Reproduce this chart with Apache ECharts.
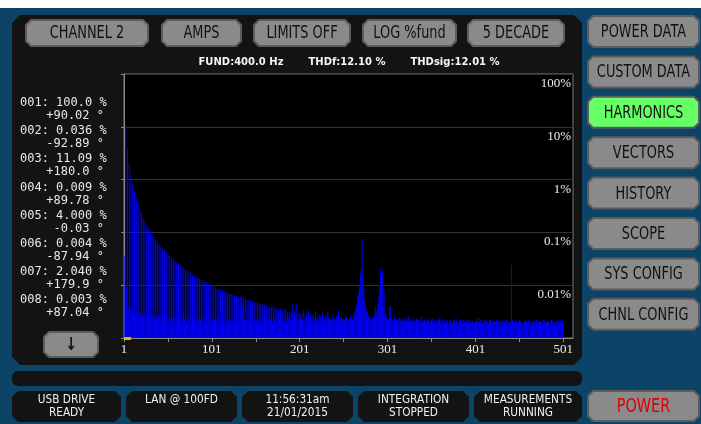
<!DOCTYPE html>
<html>
<head>
<meta charset="utf-8">
<script src="https://cdn.jsdelivr.net/npm/echarts@6/dist/echarts.min.js"></script>
<style>
  html, body { margin: 0; padding: 0; background: #0b4467; }
  #chart { width: 701px; height: 424px; }
</style>
</head>
<body>
<div id="chart"></div>
<script>
// screen texts
const topButtons = ['CHANNEL 2', 'AMPS', 'LIMITS OFF', 'LOG %fund', '5 DECADE'];
const sideButtons = ['POWER DATA', 'CUSTOM DATA', 'HARMONICS', 'VECTORS', 'HISTORY', 'SCOPE', 'SYS CONFIG', 'CHNL CONFIG'];
const activeSide = 'HARMONICS';
const statusLabels = [['USB DRIVE', 'READY'], ['LAN @ 100FD', ''], ['11:56:31am', '21/01/2015'], ['INTEGRATION', 'STOPPED'], ['MEASUREMENTS', 'RUNNING']];
const summary = ['FUND:400.0 Hz', 'THDf:12.10 %', 'THDsig:12.01 %'];

// harmonic table on the left
const listOrders = ['001', '002', '003', '004', '005', '006', '007', '008'];
const listMagnitudes = ['100.0', '0.036', '11.09', '0.009', '4.000', '0.004', '2.040', '0.003'];
const listPhases = ['+90.02', '-92.89', '+180.0', '+89.78', '-0.03', '-87.94', '+179.9', '+87.04'];

// spectrum, % of fundamental (log scale 0.001 .. 100)
const fundamental = 100.0;
// odd orders 3, 5, 7 ... 501
const oddHarmonics = [
  11.09, 4.000, 2.040, 1.24, 0.83, 0.59, 0.44, 0.35, 0.28, 0.23,
  0.19, 0.16, 0.137, 0.119, 0.104, 0.092, 0.082, 0.073, 0.066, 0.060,
  0.054, 0.049, 0.045, 0.042, 0.038, 0.036, 0.033, 0.031, 0.029, 0.027,
  0.025, 0.024, 0.022, 0.021, 0.020, 0.019, 0.018, 0.017, 0.016, 0.015,
  0.0145, 0.0138, 0.0132, 0.0126, 0.0121, 0.0116, 0.0111, 0.0106, 0.0103, 0.0100,
  0.0095, 0.0091, 0.0088, 0.0085, 0.0082, 0.0079, 0.0077, 0.0074, 0.0072, 0.0070,
  0.0068, 0.0066, 0.0064, 0.0062, 0.0060, 0.0059, 0.0057, 0.0056, 0.0054, 0.0053,
  0.0052, 0.0050, 0.0049, 0.0048, 0.0047, 0.0046, 0.0045, 0.0044, 0.0043, 0.0042,
  0.0041, 0.0040, 0.0039, 0.0038, 0.0040, 0.0037, 0.0036, 0.0035, 0.0036, 0.0034,
  0.0033, 0.0035, 0.0032, 0.0031, 0.0030, 0.0043, 0.0031, 0.0045, 0.0029, 0.0030,
  0.0028, 0.0034, 0.0027, 0.0029, 0.0033, 0.0026, 0.0028, 0.0027, 0.0031, 0.0025,
  0.0027, 0.0026, 0.0030, 0.0025, 0.0026, 0.0032, 0.0024, 0.0025, 0.0029, 0.0024,
  0.0026, 0.0033, 0.0024, 0.0025, 0.0023, 0.0028, 0.0024, 0.0023, 0.0027, 0.0022,
  0.0030, 0.0040, 0.0060, 0.0100, 0.0200, 0.0150, 0.0050, 0.0032, 0.0028, 0.0024,
  0.0023, 0.0025, 0.0040, 0.0035, 0.0060, 0.0210, 0.0180, 0.0080, 0.0030, 0.0024,
  0.0040, 0.0024, 0.0022, 0.0028, 0.0023, 0.0021, 0.0025, 0.0022, 0.0024, 0.0021,
  0.0023, 0.0026, 0.0021, 0.0022, 0.0024, 0.0020, 0.0023, 0.0022, 0.0025, 0.0021,
  0.0022, 0.0020, 0.0024, 0.0021, 0.0023, 0.0019, 0.0022, 0.0021, 0.0024, 0.0020,
  0.0022, 0.0021, 0.0019, 0.0023, 0.0020, 0.0022, 0.0018, 0.0021, 0.0024, 0.0020,
  0.0021, 0.0019, 0.0022, 0.0020, 0.0023, 0.0021, 0.0019, 0.0022, 0.0020, 0.0021,
  0.0024, 0.0020, 0.0022, 0.0019, 0.0021, 0.0023, 0.0020, 0.0022, 0.0019, 0.0021,
  0.0020, 0.0023, 0.0021, 0.0019, 0.0022, 0.0020, 0.0021, 0.0023, 0.0019, 0.0020,
  0.0022, 0.0020, 0.0021, 0.0019, 0.0022, 0.0020, 0.0018, 0.0021, 0.0020, 0.0022,
  0.0019, 0.0021, 0.0020, 0.0018, 0.0022, 0.0020, 0.0021, 0.0019, 0.0022, 0.0020,
  0.0021, 0.0019, 0.0022, 0.0020, 0.0018, 0.0021, 0.0022, 0.0020, 0.0019, 0.0020
];
// even orders 2, 4, 6 ... 500
const evenHarmonics = [
  0.036, 0.009, 0.004, 0.003, 0.0035, 0.0030, 0.0028, 0.0032, 0.0027, 0.0030,
  0.0026, 0.0029, 0.0025, 0.0031, 0.0024, 0.0027, 0.0025, 0.0023, 0.0026, 0.0024,
  0.0027, 0.0023, 0.0025, 0.0022, 0.0026, 0.0024, 0.0021, 0.0025, 0.0023, 0.0024,
  0.0022, 0.0025, 0.0021, 0.0024, 0.0023, 0.0020, 0.0022, 0.0025, 0.0021, 0.0023,
  0.0022, 0.0024, 0.0020, 0.0023, 0.0021, 0.0025, 0.0022, 0.0020, 0.0023, 0.0021,
  0.0024, 0.0022, 0.0020, 0.0023, 0.0021, 0.0024, 0.0022, 0.0020, 0.0023, 0.0021,
  0.0022, 0.0024, 0.0021, 0.0023, 0.0020, 0.0022, 0.0062, 0.0040, 0.0022, 0.0021,
  0.0023, 0.0021, 0.0024, 0.0020, 0.0022, 0.0023, 0.0021, 0.0024, 0.0022, 0.0020,
  0.0023, 0.0021, 0.0024, 0.0022, 0.0020, 0.0023, 0.0025, 0.0021, 0.0022, 0.0024,
  0.0021, 0.0023, 0.0020, 0.0024, 0.0022, 0.0021, 0.0023, 0.0025, 0.0022, 0.0021,
  0.0024, 0.0022, 0.0020, 0.0023, 0.0021, 0.0024, 0.0022, 0.0021, 0.0023, 0.0020,
  0.0022, 0.0024, 0.0021, 0.0023, 0.0022, 0.0020, 0.0024, 0.0022, 0.0021, 0.0023,
  0.0022, 0.0021, 0.0024, 0.0022, 0.0023, 0.0021, 0.0025, 0.0022, 0.0024, 0.0023,
  0.0026, 0.0030, 0.0045, 0.0070, 0.0170, 0.0750, 0.0090, 0.0040, 0.0030, 0.0025,
  0.0023, 0.0024, 0.0026, 0.0030, 0.0045, 0.0100, 0.0150, 0.0040, 0.0028, 0.0024,
  0.0022, 0.0040, 0.0021, 0.0023, 0.0020, 0.0022, 0.0024, 0.0021, 0.0020, 0.0022,
  0.0021, 0.0023, 0.0020, 0.0022, 0.0019, 0.0021, 0.0023, 0.0020, 0.0022, 0.0019,
  0.0021, 0.0020, 0.0022, 0.0019, 0.0021, 0.0023, 0.0020, 0.0018, 0.0021, 0.0022,
  0.0020, 0.0019, 0.0022, 0.0020, 0.0018, 0.0021, 0.0020, 0.0022, 0.0019, 0.0021,
  0.0020, 0.0022, 0.0019, 0.0021, 0.0020, 0.0018, 0.0022, 0.0020, 0.0021, 0.0019,
  0.0021, 0.0020, 0.0023, 0.0019, 0.0022, 0.0020, 0.0021, 0.0019, 0.0022, 0.0020,
  0.0019, 0.0021, 0.0020, 0.0022, 0.0019, 0.0021, 0.0020, 0.0022, 0.0021, 0.0019,
  0.0240, 0.0021, 0.0019, 0.0022, 0.0020, 0.0021, 0.0019, 0.0020, 0.0022, 0.0019,
  0.0021, 0.0020, 0.0018, 0.0022, 0.0020, 0.0019, 0.0021, 0.0020, 0.0022, 0.0019,
  0.0020, 0.0021, 0.0019, 0.0022, 0.0020, 0.0021, 0.0019, 0.0020, 0.0022, 0.0021
];
const lastOrder = 501;
const axisOrders = 512; // x range of the plot frame

const orders = [];
for (let n = 1; n <= axisOrders; n++) orders.push(String(n));

const harmonicData = [];
for (let n = 1; n <= lastOrder; n++) {
  // fundamental is not drawn as a bar, only marked by the cursor
  if (n === 1) harmonicData.push(null);
  else if (n % 2) harmonicData.push(oddHarmonics[(n - 3) / 2]);
  else harmonicData.push(evenHarmonics[(n - 2) / 2]);
}

const BTN_FONT = "'DejaVu Sans', sans-serif";
const MONO = "'DejaVu Sans Mono', monospace";
const SERIF = "'Liberation Serif', 'DejaVu Serif', serif";

function chamfer(x, y, w, h, c) {
  return [[x + c, y], [x + w - c, y], [x + w, y + c], [x + w, y + h - c],
          [x + w - c, y + h], [x + c, y + h], [x, y + h - c], [x, y + c]];
}

// condensed look: shrink text horizontally around its anchor
function label(x, y, text, color, font, sx) {
  return { type: 'text', z: 6, x: x, y: y, scaleX: sx,
    style: { text: text, fill: color, font: font, align: 'center', verticalAlign: 'middle' } };
}

function button(x, y, w, h, text, fill, color, fontSize) {
  return [
    { type: 'polygon', z: 5, shape: { points: chamfer(x, y, w, h, 5) },
      style: { fill: fill, stroke: '#5c5c5c', lineWidth: 2 } },
    label(x + w / 2, y + h / 2 + 1, text, color, fontSize + 'px ' + BTN_FONT, 0.76)
  ];
}

const elements = [];
// white strip above the screen
elements.push({ type: 'rect', z: -2, shape: { x: 0, y: 0, width: 701, height: 8 }, style: { fill: '#ffffff' } });
// main dark panel + long bar
elements.push({ type: 'polygon', z: -1, shape: { points: chamfer(12, 15, 570, 350, 8) }, style: { fill: '#131313' } });
elements.push({ type: 'rect', z: -1, shape: { x: 12, y: 371, width: 570, height: 15, r: 6 }, style: { fill: '#131313' } });

const topX = [26, 162, 254, 363, 468];
const topW = [122, 79, 96, 93, 96];
topButtons.forEach((t, i) => elements.push(...button(topX[i], 20, topW[i], 26, t, '#8a8a8a', '#111', 17)));

sideButtons.forEach((t, i) => {
  const active = t === activeSide;
  elements.push(...button(588, 16 + i * 40.4, 111, 31, t, active ? '#66ff66' : '#8a8a8a', '#111', 17));
});

const statusX = [12, 126, 242, 358, 474];
const statusW = [109, 111, 111, 111, 108];
statusLabels.forEach((s, i) => {
  elements.push({ type: 'polygon', z: -1, shape: { points: chamfer(statusX[i], 391, statusW[i], 31, 6) }, style: { fill: '#131313' } });
  s.forEach((line, j) => elements.push(
    label(statusX[i] + statusW[i] / 2, 400 + j * 13, line, '#f0f0f0', '12px ' + BTN_FONT, 0.88)));
});
elements.push(...button(588, 391, 111, 30, 'POWER', '#8a8a8a', '#e00000', 19));

// down arrow button
elements.push(...button(44, 332, 54, 25, '\u2193', '#8a8a8a', '#111', 'bold 18'));

// summary line
const summaryX = [241, 347, 455];
summary.forEach((t, i) => elements.push(label(summaryX[i], 62, t, '#f4f4f4', 'bold 10px DejaVu Sans', 1)));

// harmonic list
listOrders.forEach((o, i) => {
  const y = 103 + i * 28.15;
  elements.push({ type: 'text', z: 6, x: 20, y: y,
    style: { text: o + ': ' + listMagnitudes[i] + ' %', fill: '#e8e8e8', font: '12px ' + MONO, align: 'left', verticalAlign: 'middle' } });
  elements.push({ type: 'text', z: 6, x: 104, y: y + 13,
    style: { text: listPhases[i] + ' \u00b0', fill: '#e8e8e8', font: '12px ' + MONO, align: 'right', verticalAlign: 'middle' } });
});

// cursor on the fundamental
elements.push({ type: 'rect', z: 20, shape: { x: 124, y: 337, width: 7, height: 3 }, style: { fill: '#e8b400' } });

const chart = echarts.init(document.getElementById('chart'));
chart.setOption({
  backgroundColor: '#0b4467',
  animation: false,
  graphic: { elements: elements },
  grid: {
    left: 124, top: 74, width: 449, height: 264,
    show: true, backgroundColor: '#000000', borderColor: '#7a7a7a', borderWidth: 1
  },
  xAxis: {
    type: 'category', data: orders, boundaryGap: false,
    axisLine: { lineStyle: { color: '#8a8a8a', width: 1 } },
    axisTick: { interval: (i) => i % 50 === 0, length: 4, lineStyle: { color: '#8a8a8a' } },
    axisLabel: { interval: (i) => i % 100 === 0, color: '#eeeeee', fontFamily: SERIF, fontSize: 13, margin: 5 },
    splitLine: { show: false }
  },
  yAxis: [{
    type: 'log', min: 0.001, max: 100, startValue: 0.001, position: 'left',
    axisLine: { show: true, lineStyle: { color: '#8a8a8a' } },
    axisTick: { show: true, length: 3, lineStyle: { color: '#8a8a8a' } },
    axisLabel: { show: false },
    splitLine: { show: true, lineStyle: { color: '#333333' } }
  }, {
    type: 'log', min: 0.001, max: 100, position: 'right',
    axisLine: { show: false }, axisTick: { show: false }, splitLine: { show: false },
    axisLabel: {
      inside: true, margin: 2, color: '#eeeeee', fontFamily: SERIF, fontSize: 13,
      verticalAlign: 'top', padding: [3, 0, 0, 0],
      formatter: (v) => v >= 0.01 ? Number(v.toPrecision(3)) + '%' : ''
    }
  }],
  series: [{
    type: 'bar', yAxisIndex: 0, data: harmonicData,
    barCategoryGap: '0%',
    itemStyle: { color: '#0000ff' }
  }]
});
</script>
</body>
</html>
